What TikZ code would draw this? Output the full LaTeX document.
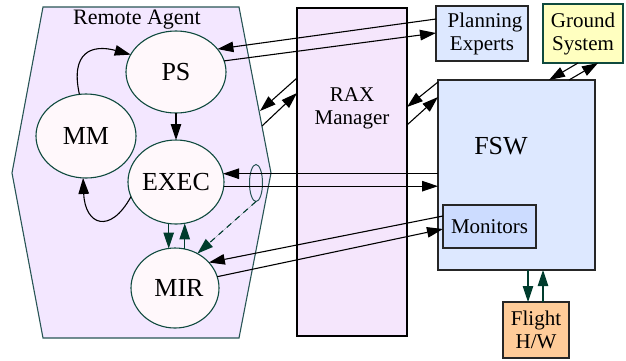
\documentclass[tikz,border=0pt]{standalone}
\usepackage{fontspec}
\setmainfont{Liberation Serif}
\usetikzlibrary{shapes.geometric,arrows.meta,calc}
\definecolor{hexfill}{RGB}{243,231,255}
\definecolor{hexline}{RGB}{40,85,85}
\definecolor{ellfill}{RGB}{255,248,251}
\definecolor{ellline}{RGB}{15,74,62}
\definecolor{raxfill}{RGB}{245,230,252}
\definecolor{bluefill}{RGB}{221,232,255}
\definecolor{monfill}{RGB}{204,220,255}
\definecolor{gndfill}{RGB}{255,255,192}
\definecolor{hwfill}{RGB}{255,204,153}
\definecolor{dkgreen}{RGB}{0,60,45}
\begin{document}
\begin{tikzpicture}[x=1pt,y=-1pt,
  every node/.style={inner sep=0pt, outer sep=0pt},
  ell/.style={ellipse, draw=ellline, fill=ellfill, line width=1.1pt,
    font=\fontsize{26}{28}\selectfont},
  boxtext/.style={align=center, font=\fontsize{21}{23}\selectfont},
  box/.style={boxtext, rectangle, draw=black!85, line width=1.1pt},
  arr/.style={line width=1.1pt, -{Triangle[length=16pt,width=10.5pt]}},
  garr/.style={arr, draw=dkgreen, fill=dkgreen}]
\useasboundingbox (0,0) rectangle (626,360);
% Remote Agent container
\draw[fill=hexfill, draw=hexline, line width=1.1pt]
  (43,7) -- (239,7) -- (271,173) -- (239,338) -- (43,338) -- (12,173) -- cycle;
\node[font=\fontsize{22}{24}\selectfont] (ra) at (137,20) {Remote Agent};
% ellipses
\node[ell, minimum width=100, minimum height=82] (PS) at (176,72) {PS};
\node[ell, minimum width=100, minimum height=84] (MM) at (86,136) {MM};
\node[ell, minimum width=96, minimum height=84] (EXEC) at (176,182) {EXEC};
\node[ell, minimum width=88, minimum height=80] (MIR) at (175,288) {\hspace{8pt}MIR};
% boxes
\node[box, fill=raxfill, draw=black, minimum width=110, minimum height=328] (RAX) at (352,172) {};
\node[boxtext] (raxt) at (352,108) {RAX\\Manager};
\node[box, fill=bluefill, minimum width=92, minimum height=55] (PE) at (482,33.5) {\hspace{6pt}Planning\\Experts};
\node[box, fill=gndfill, draw=ellline, minimum width=80, minimum height=59] (GS) at (583,33.5) {Ground\\System};
\node[box, fill=bluefill, minimum width=157, minimum height=190] (FSW) at (516.5,175) {};
\node[font=\fontsize{26}{28}\selectfont] (fswt) at (501,146) {FSW};
\node[box, fill=monfill, minimum width=93, minimum height=43] (MON) at (489.5,226.5) {Monitors};
\node[box, fill=hwfill, minimum width=66, minimum height=56] (FH) at (536,330) {Flight\\H/W};
% small ellipse
\node[ellipse, draw=hexline, line width=1pt, minimum width=13, minimum height=37] (SE) at (256,183) {};
% hexagon edge points
\coordinate (ha) at (260,111);
\coordinate (hb) at (262,126);
% edges
\draw[arr] (PE.west |- 0,19) -- (PS.29);
\draw[arr] (PS.13) -- (PE.west |- 0,33);
\draw[arr] (PS.south) -- (EXEC.north);
\draw[arr] (RAX.west |- 0,78) -- (ha);
\draw[arr] (hb) -- (RAX.west |- 0,93);
\draw[arr] (FSW.west |- 0,82) -- (RAX.east |- 0,107);
\draw[arr] (RAX.east |- 0,125) -- (FSW.west |- 0,97);
\draw[arr] (578,0 |- GS.south) -- (549,0 |- FSW.north);
\draw[arr] (569,0 |- FSW.north) -- (598,0 |- GS.south);
\draw[arr] (FSW.west |- EXEC.10) -- (EXEC.10);
\draw[arr] (EXEC.-5) -- (FSW.west |- EXEC.-5);
\draw[garr, dashed, dash pattern=on 6pt off 5pt] (SE.south) -- (MIR.57);
\draw[garr] (EXEC.-100) -- (EXEC.-100 |- MIR.100);
\draw[garr] (MIR.76) -- (MIR.76 |- EXEC.-79);
\draw[arr] (MM.99) .. controls (70,52) and (92,44) .. (PS.159);
\draw[arr] (EXEC.198) .. controls (110,235) and (85,225) .. (MM.266);
\draw[arr] (MON.west |- 0,216) -- (MIR.37);
\draw[arr] (MIR.15) -- (MON.west |- 0,229);
\draw[garr] (528,0 |- FSW.south) -- (528,0 |- FH.north);
\draw[garr] (543,0 |- FH.north) -- (543,0 |- FSW.south);
\end{tikzpicture}
\end{document}
